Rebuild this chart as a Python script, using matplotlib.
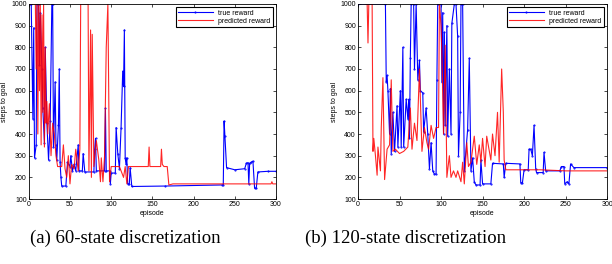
import matplotlib
matplotlib.use('Agg')
import matplotlib.pyplot as plt

# 60-state discretization
ep_a_true = [1, 3, 5, 6, 7, 9, 10, 12, 13, 14, 16, 17, 19, 20, 22, 24, 26, 28, 29, 30, 32, 33,
             34, 36, 37, 38, 39, 40, 45, 47, 50, 51, 53, 55, 57, 60, 61, 65, 66, 68, 79, 80,
             81, 82, 92, 93, 94, 98, 99, 100, 105, 106, 108, 110, 112, 114, 115, 116, 117,
             118, 119, 120, 122, 123, 125, 165, 235, 236, 237, 238, 240, 250, 262, 264, 266,
             267, 268, 270, 272, 274, 276, 278, 290, 300]
val_a_true = [1000, 1000, 470, 890, 290, 350, 1000, 1000, 720, 960, 700, 520, 360, 800, 450,
              280, 460, 1000, 1000, 340, 640, 350, 280, 440, 700, 270, 200, 160, 160, 270, 250,
              300, 230, 260, 230, 350, 230, 230, 310, 225, 225, 330, 380, 230, 230, 520, 230,
              230, 170, 220, 220, 430, 310, 240, 430, 690, 620, 880, 290, 260, 290, 170, 170,
              245, 158, 160, 165, 165, 460, 390, 245, 235, 240, 265, 268, 170, 265, 270, 275,
              150, 150, 225, 228, 228]

ep_a_pred = [0, 8, 9, 10, 11, 12, 13, 14, 15, 16, 17, 18, 19, 20, 21, 22, 23, 25, 27, 29, 31,
             33, 35, 40, 42, 44, 46, 48, 50, 52, 55, 57, 60, 62, 63, 72, 73, 75, 76, 77, 79, 82,
             85, 87, 88, 90, 92, 94, 96, 97, 98, 100, 110, 115, 117, 119, 121, 125, 145, 146,
             147, 148, 160, 161, 162, 164, 168, 170, 175, 200, 294, 295, 296, 300]
val_a_pred = [1000, 1000, 700, 1000, 400, 1000, 600, 1000, 350, 950, 500, 1000, 340, 800, 450,
              550, 400, 540, 300, 450, 400, 300, 250, 250, 350, 240, 200, 300, 170, 260, 240,
              330, 230, 330, 1000, 1000, 230, 880, 200, 860, 250, 370, 280, 180, 290, 180, 300,
              800, 1000, 600, 180, 250, 250, 200, 250, 170, 250, 250, 250, 340, 250, 250, 250,
              330, 260, 250, 250, 165, 170, 170, 170, 180, 170, 170]

# 120-state discretization
ep_b_true = [0, 33, 34, 35, 36, 38, 39, 40, 42, 44, 47, 48, 51, 52, 54, 55, 58, 60, 61, 62, 63,
             64, 67, 68, 70, 72, 74, 75, 78, 79, 82, 84, 86, 88, 90, 92, 94, 95, 96, 100, 101,
             102, 103, 104, 105, 107, 108, 110, 112, 113, 116, 118, 120, 121, 123, 124, 126,
             128, 132, 134, 136, 138, 140, 142, 147, 148, 150, 160, 162, 175, 176, 178, 195,
             196, 198, 200, 205, 206, 208, 210, 212, 214, 215, 223, 224, 226, 243, 245, 248,
             249, 252, 254, 256, 260, 300]
val_b_true = [1000, 1000, 640, 670, 600, 400, 610, 310, 500, 320, 530, 340, 600, 340, 800, 340,
              560, 470, 560, 380, 750, 1000, 1000, 700, 1000, 650, 740, 600, 590, 410, 520, 400,
              240, 360, 230, 215, 215, 650, 1000, 1000, 640, 960, 400, 870, 440, 900, 390, 700,
              400, 910, 1000, 1000, 850, 300, 500, 1000, 1000, 230, 420, 750, 230, 290, 180,
              165, 165, 280, 170, 170, 265, 262, 200, 265, 262, 175, 175, 235, 235, 330, 330,
              300, 440, 240, 222, 222, 315, 230, 230, 250, 250, 170, 180, 170, 262, 245, 245]

ep_b_pred = [9, 11, 12, 13, 17, 18, 19, 21, 23, 24, 27, 28, 30, 32, 35, 38, 40, 42, 45, 50, 55,
             60, 63, 65, 68, 71, 74, 77, 80, 83, 85, 88, 91, 94, 97, 98, 100, 101, 103, 105, 107,
             110, 112, 115, 118, 120, 124, 126, 128, 131, 133, 136, 140, 143, 146, 148, 150,
             153, 155, 160, 162, 165, 168, 170, 173, 175, 176, 178, 220, 250, 300]
val_b_pred = [1000, 1000, 820, 1000, 1000, 320, 380, 300, 210, 340, 230, 430, 660, 190, 330,
              350, 650, 320, 330, 310, 320, 340, 520, 330, 450, 370, 700, 320, 430, 360, 330,
              440, 380, 430, 430, 1000, 900, 770, 400, 810, 200, 300, 200, 230, 200, 230, 180,
              270, 170, 360, 250, 270, 390, 260, 350, 270, 380, 250, 390, 280, 400, 300, 500,
              270, 700, 500, 280, 235, 235, 230, 230]

captions = ['(a) 60-state discretization', '(b) 120-state discretization']

fig = plt.figure(figsize=(6.12, 2.64), dpi=100)
ax1 = fig.add_axes([0.047, 0.246, 0.404, 0.739])
ax2 = fig.add_axes([0.585, 0.246, 0.407, 0.739])

panels = [(ax1, ep_a_true, val_a_true, ep_a_pred, val_a_pred),
          (ax2, ep_b_true, val_b_true, ep_b_pred, val_b_pred)]

for ax, et, vt, ep, vp in panels:
    ax.plot(et, vt, color='#0000ff', lw=0.8, marker='.', markersize=1, label='true reward')
    ax.plot(ep, vp, color='#ff0000', lw=0.8, alpha=0.85, label='predicted reward')
    ax.set_xlim(0, 300)
    ax.set_ylim(100, 1000)
    ax.set_xticks(range(0, 301, 50))
    ax.set_yticks(range(100, 1001, 100))
    ax.tick_params(direction='in', length=2, width=0.5, labelsize=5, pad=1.5,
                   top=True, right=True)
    for lab in ax.get_xticklabels() + ax.get_yticklabels():
        lab.set_family('Liberation Sans')
    for s in ax.spines.values():
        s.set_linewidth(0.6)
    ax.set_xlabel('episode', fontsize=5, family='Liberation Sans', labelpad=1)
    ax.set_ylabel('steps to goal', fontsize=5, family='Liberation Sans', labelpad=2)
    leg = ax.legend(loc='upper right', prop={'family': 'Liberation Sans', 'size': 5},
                    fancybox=False, edgecolor='black', framealpha=1, handlelength=5,
                    borderpad=0.3, labelspacing=0.2, borderaxespad=0.5)
    leg.get_frame().set_linewidth(0.8)

fig.text(125 / 612, 1 - 238 / 264, captions[0], ha='center', va='center',
         fontsize=13.5, family='Liberation Serif')
fig.text(406 / 612, 1 - 238 / 264, captions[1], ha='center', va='center',
         fontsize=13.5, family='Liberation Serif')

fig.savefig('out.png', dpi=100)
